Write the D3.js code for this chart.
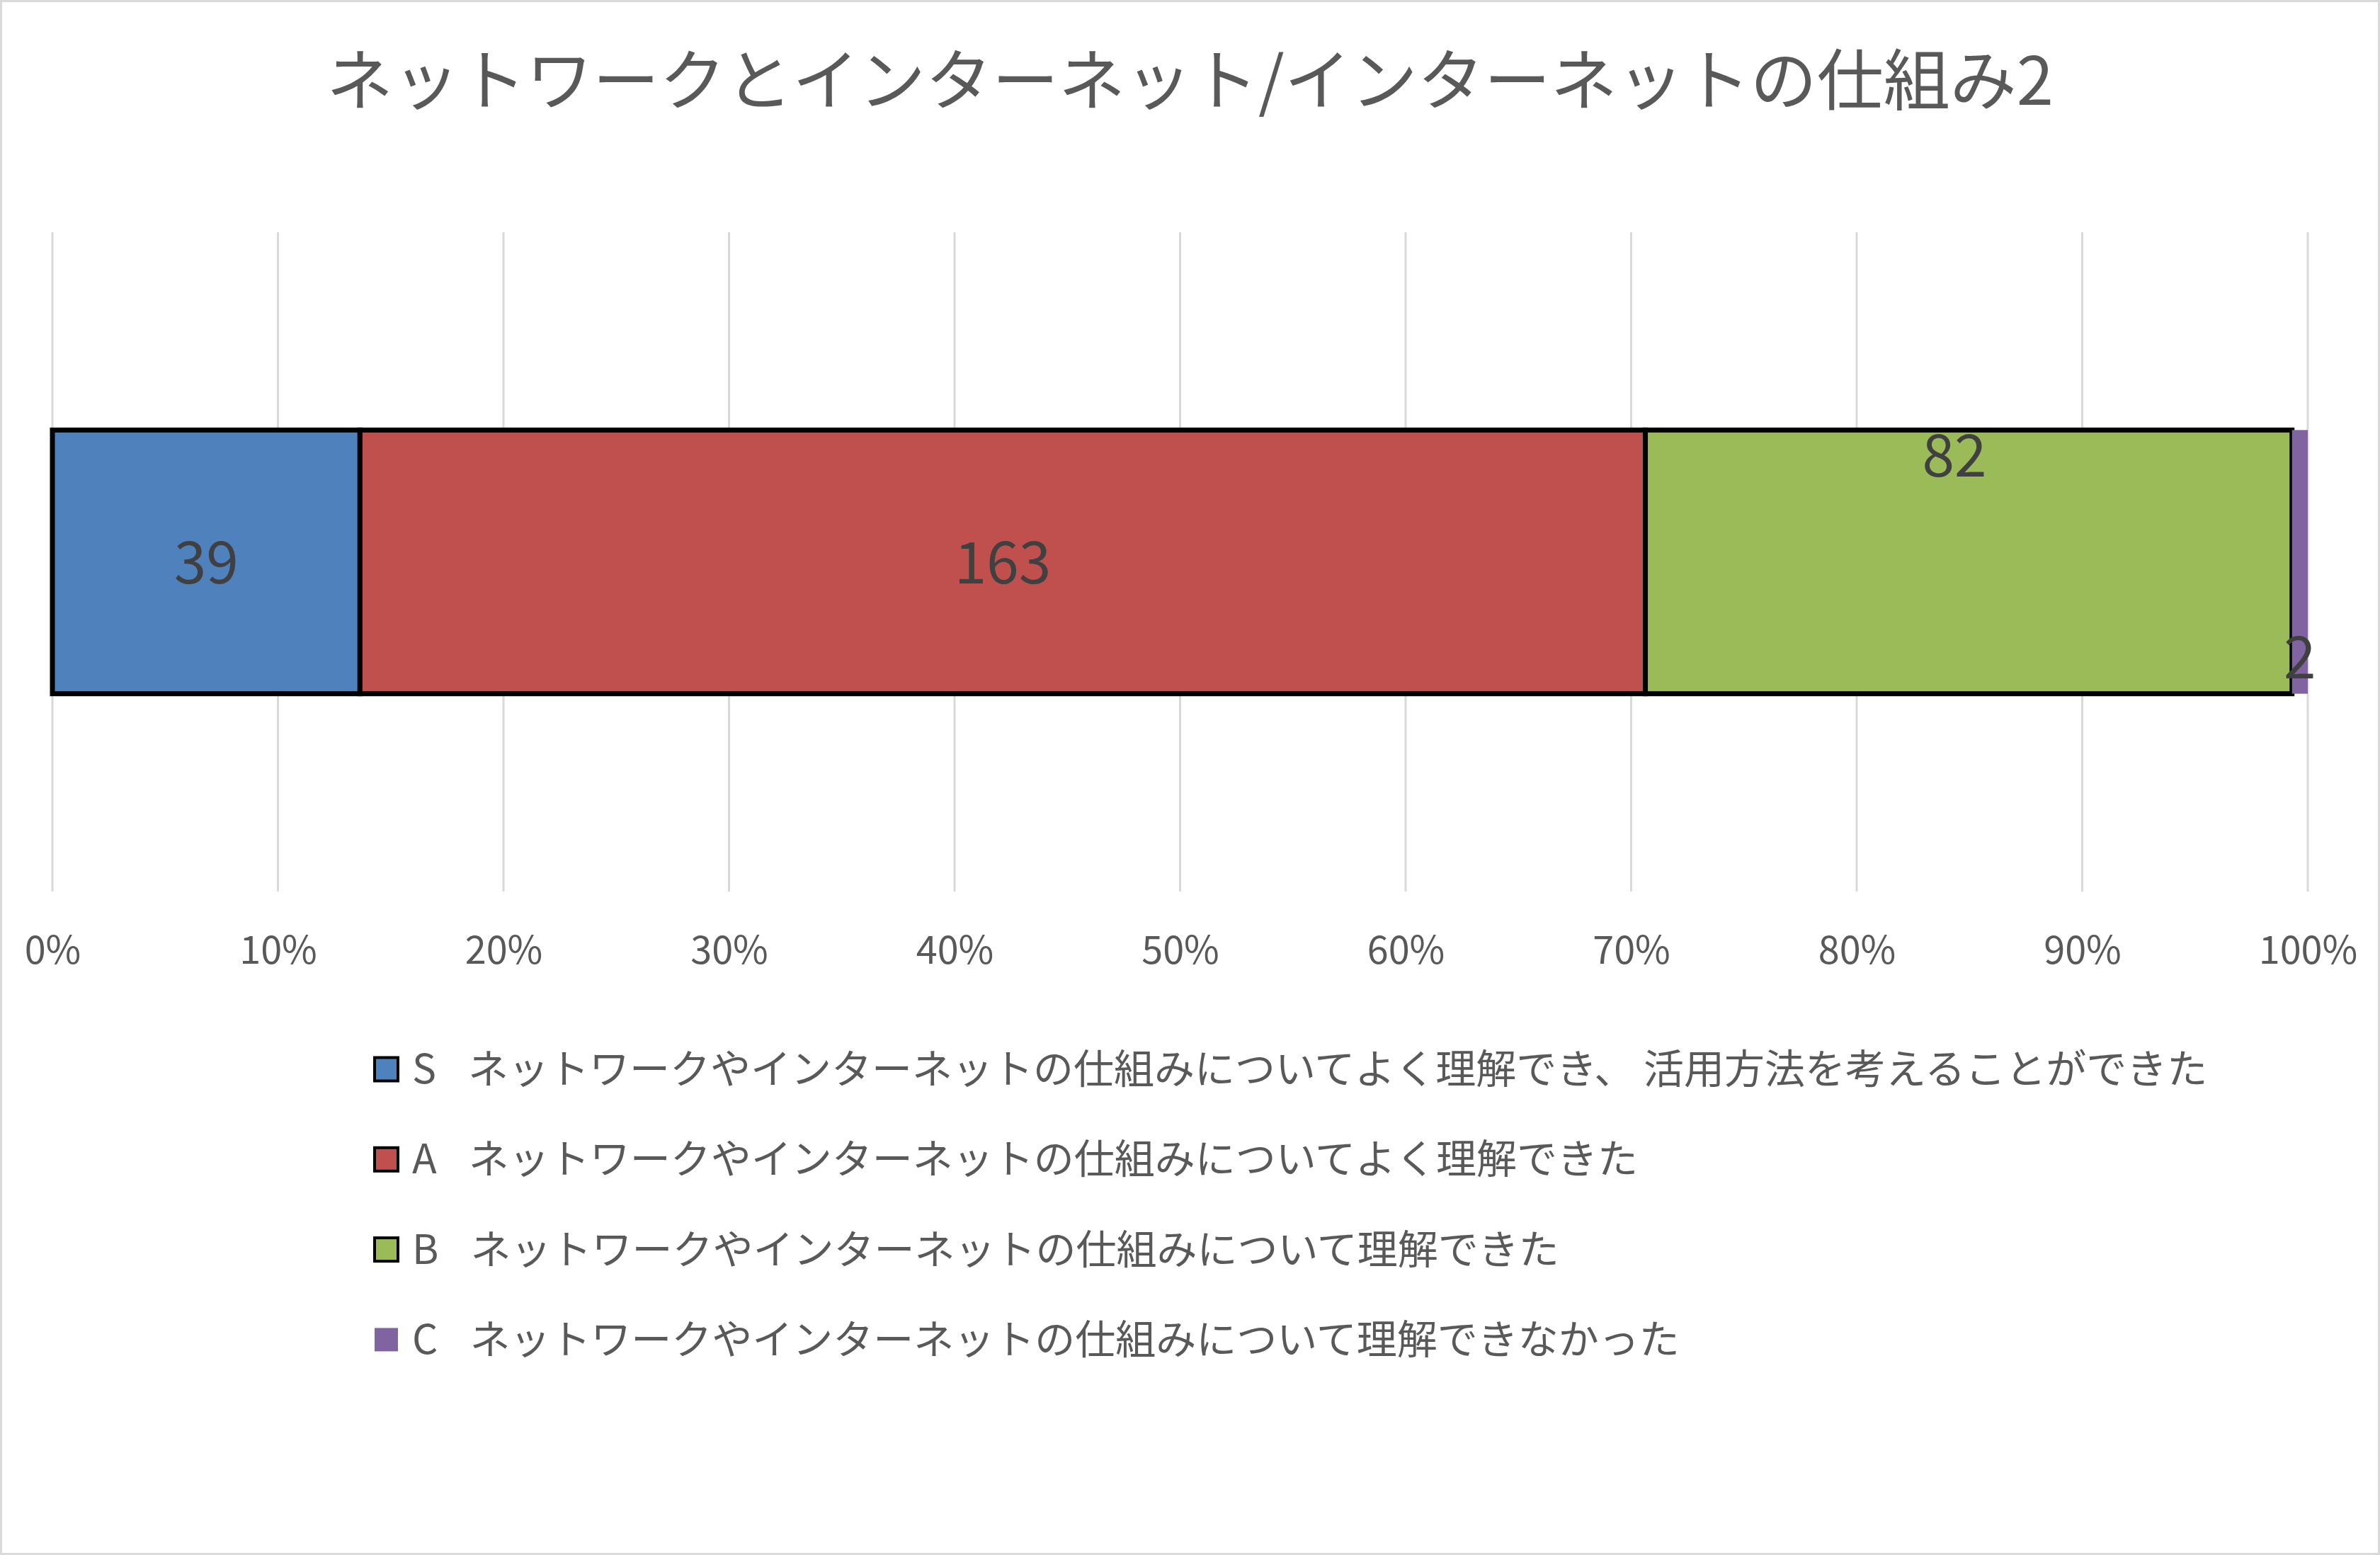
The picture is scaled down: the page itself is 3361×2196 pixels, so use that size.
<!DOCTYPE html>
<html>
<head>
<meta charset="utf-8">
<script src="https://cdn.jsdelivr.net/npm/d3@7"></script>
<style>
  html, body { margin: 0; padding: 0; background: #fff; }
  svg text { font-family: 'Noto Sans CJK JP', 'Noto Sans', sans-serif; }
</style>
</head>
<body>
<svg id="chart" width="3361" height="2196"></svg>
<script>
// data
const title = 'ネットワークとインターネット/インターネットの仕組み2'
const categories = ['S', 'A', 'B', 'C']
const counts = [39, 163, 82, 2]
const legendLabels = [
  'S　ネットワークやインターネットの仕組みについてよく理解でき、 活用方法を考えることができた',
  'A　ネットワークやインターネットの仕組みについてよく理解できた',
  'B　ネットワークやインターネットの仕組みについて理解できた',
  'C　ネットワークやインターネットの仕組みについて理解できなかった'
]
const tickValues = [0, 0.1, 0.2, 0.3, 0.4, 0.5, 0.6, 0.7, 0.8, 0.9, 1]
const colors = ['#4F81BD', '#C0504D', '#9BBB59', '#8064A2']

let svg = d3.select('#chart')
let width = +svg.attr('width')
let height = +svg.attr('height')

// chart border
svg.append('rect')
    .attr('x', 1.5).attr('y', 1.5)
    .attr('width', width - 3).attr('height', height - 3)
    .attr('fill', '#fff')
    .attr('stroke', '#d9d9d9')
    .attr('stroke-width', 3)

svg.append('text')
    .attr('x', width / 2)
    .attr('y', 148)
    .attr('text-anchor', 'middle')
    .attr('font-size', 94)
    .attr('fill', '#595959')
    .text(title)

let plotTop = 328, plotBottom = 1259

let x = d3.scaleLinear()
    .domain([0, 1])
    .range([74, 3259])

let y = d3.scaleBand()
    .domain(['row'])
    .range([plotTop, plotBottom])
    .paddingInner(3 / 7)
    .paddingOuter(3 / 7)

// gridlines
svg.append('g')
  .selectAll('line')
  .data(tickValues)
  .enter().append('line')
    .attr('x1', d => x(d)).attr('x2', d => x(d))
    .attr('y1', plotTop).attr('y2', plotBottom)
    .attr('stroke', '#d9d9d9')
    .attr('stroke-width', 3)

// axis labels
let axis = svg.append('g')
    .attr('transform', 'translate(0,' + plotBottom + ')')
    .call(d3.axisBottom(x).tickValues(tickValues).tickFormat(d3.format('.0%')).tickSize(0).tickPadding(0))
axis.select('.domain').remove()
axis.selectAll('text')
    .attr('y', 102)
    .attr('dy', 0)
    .attr('font-size', 54)
    .attr('font-family', "'Noto Sans CJK JP', sans-serif")
    .attr('fill', '#595959')

// stacked segments
let total = d3.sum(counts)
let segs = []
let acc = 0
counts.forEach((v, i) => {
  segs.push({ key: categories[i], value: v, x0: acc / total, x1: (acc + v) / total, i: i })
  acc += v
})

svg.append('g')
  .selectAll('rect')
  .data(segs)
  .enter().append('rect')
    .attr('x', d => x(d.x0))
    .attr('y', y('row'))
    .attr('width', d => x(d.x1) - x(d.x0))
    .attr('height', y.bandwidth())
    .attr('fill', (d, i) => colors[i])
    .attr('stroke', d => d.key === 'C' ? 'none' : '#000')
    .attr('stroke-width', 7)

// data labels (B and C were nudged by hand in the original)
svg.append('g')
  .selectAll('text')
  .data(segs)
  .enter().append('text')
    .attr('x', d => {
      let cx = (x(d.x0) + x(d.x1)) / 2
      return d.key === 'B' ? cx - 20 : cx
    })
    .attr('y', d => {
      let top = y('row'), mid = top + y.bandwidth() / 2, bot = top + y.bandwidth()
      if (d.key === 'B') return top + 66
      if (d.key === 'C') return bot - 22
      return mid + 30
    })
    .attr('text-anchor', 'middle')
    .attr('font-size', 82)
    .attr('fill', '#404040')
    .text(d => d.value)

// legend
let legend = svg.append('g')
  .selectAll('g')
  .data(legendLabels)
  .enter().append('g')
    .attr('transform', (d, i) => 'translate(527,' + (1510 + i * 127.3) + ')')

legend.append('rect')
    .attr('x', 2)
    .attr('y', -16.5)
    .attr('width', 33)
    .attr('height', 33)
    .attr('fill', (d, i) => colors[i])
    .attr('stroke', (d, i) => categories[i] === 'C' ? 'none' : '#000')
    .attr('stroke-width', 4)

let lt = legend.append('text')
    .attr('y', 20)
    .attr('font-size', 57)
    .attr('fill', '#595959')

lt.append('tspan')
    .attr('class', 'key')
    .attr('x', 55)
    .text(d => d.split('　')[0])

lt.append('tspan')
    .attr('class', 'desc')
    .text(d => d.split('　').slice(1).join('　'))

// place the description just after the key letter, like the original spacing
lt.each(function() {
  let t = d3.select(this)
  let kw = t.select('.key').node().getComputedTextLength()
  t.select('.desc').attr('x', 55 + kw + 45)
})
</script>
</body>
</html>
